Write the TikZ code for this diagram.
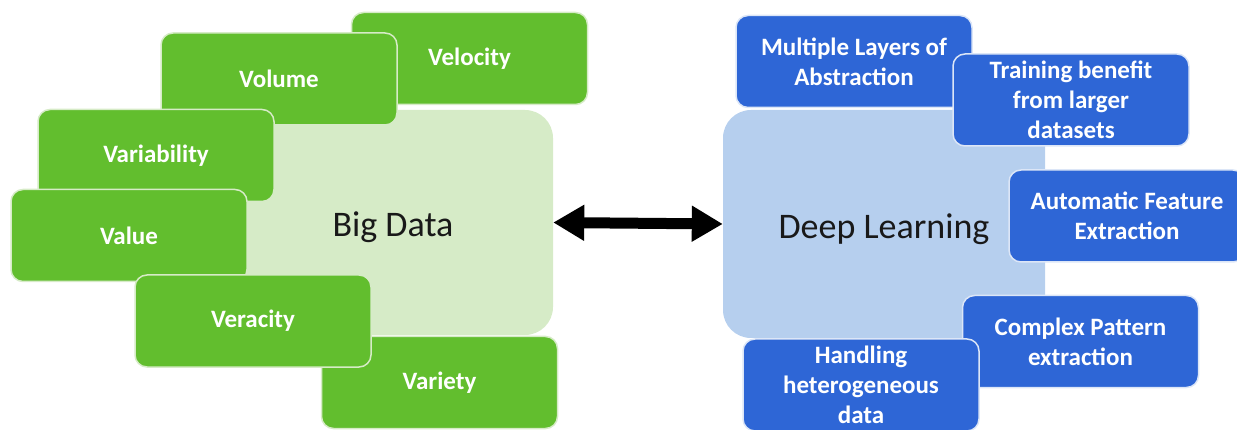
\documentclass[tikz,border=0pt]{standalone}
\usepackage{fontspec}
\setmainfont{Carlito}
\usetikzlibrary{arrows.meta}
\definecolor{gfill}{HTML}{62BE2E}
\definecolor{glight}{HTML}{D6EBC7}
\definecolor{bfill}{HTML}{2E66D6}
\definecolor{blight}{HTML}{B6CFEE}
\definecolor{bedge}{HTML}{DCE6F7}
\tikzset{
  lightbox/.style={rounded corners=28pt, minimum width=322pt, inner sep=0pt},
  bigtext/.style={font=\fontsize{36}{40}\selectfont, text=black!90},
  smallbox/.style={rounded corners=12pt, minimum width=236pt, minimum height=92pt,
    inner sep=0pt, align=center, text=white, line width=1.5pt,
    font=\fontsize{25}{30}\selectfont\bfseries},
  gbox/.style={smallbox, fill=gfill, draw=glight},
  bbox/.style={smallbox, fill=bfill, draw=bedge},
}
\begin{document}
\begin{tikzpicture}[x=1pt,y=-1pt]
\useasboundingbox (0,0) rectangle (1237,430);
% light background boxes
\node[lightbox, fill=glight, minimum height=225pt] (bd) at (392,222.5) {};
\node[lightbox, fill=blight, minimum height=228pt] (dl) at (884,224) {};
\node[bigtext] (bdt) at (393,227) {Big Data};
% green boxes
\node[gbox] (vel) at (469.5,58.5) {Velocity};
\node[gbox] (vol) at (279,79) {Volume};
\node[gbox] (vab) at (156,155.5) {Variability};
\node[gbox] (val) at (129,235.5) {Value};
\node[gbox] (var) at (439.5,382.5) {Variety};
\node[gbox] (ver) at (253,321) {Veracity};
% blue boxes
\node[bbox] (mla) at (854,61.5) {Multiple Layers of\\Abstraction};
\node[bbox] (tbl) at (1071,100) {Training benefit\\from larger\\datasets};
\node[bbox] (afe) at (1127,216) {Automatic Feature\\Extraction};
\node[bbox] (cpe) at (1080.5,341.5) {Complex Pattern\\extraction};
\node[bbox] (hhd) at (861,385) {Handling\\heterogeneous\\data};
\node[bigtext] (dlt) at (884,229) {Deep Learning};
% arrow
\draw[line width=11pt, {Triangle[length=31pt,width=34pt]}-{Triangle[length=31pt,width=34pt]}]
  (bd.east) -- (dl.west);
\end{tikzpicture}
\end{document}
